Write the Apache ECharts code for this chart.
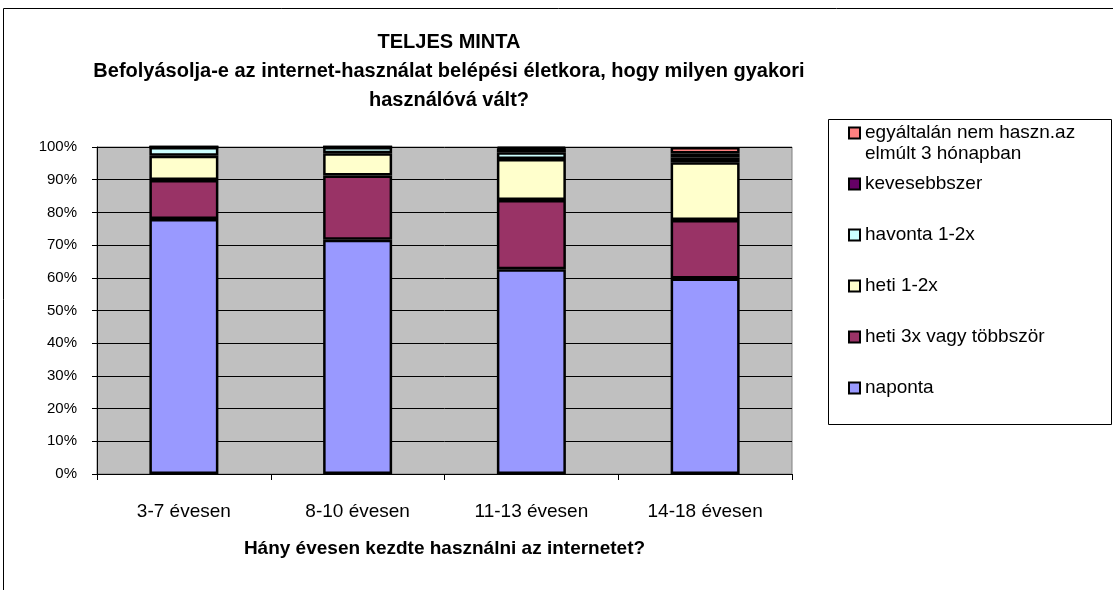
<!DOCTYPE html>
<html>
<head>
<meta charset="utf-8">
<script src="https://cdn.jsdelivr.net/npm/echarts@6/dist/echarts.min.js"></script>
<style>
html, body { margin: 0; padding: 0; background: #fff; }
#chart { width: 1113px; height: 590px; }
</style>
</head>
<body>
<div id="chart"></div>
<script>
// data (percent of each age group)
var categories = ['3-7 évesen', '8-10 évesen', '11-13 évesen', '14-18 évesen'];
var naponta = [78.0, 71.6, 62.6, 59.8];
var heti3x = [11.9, 19.7, 21.2, 17.9];
var heti12 = [7.4, 6.8, 12.5, 17.6];
var havonta = [2.7, 1.9, 2.1, 1.5];
var kevesebb = [0, 0, 1.2, 1.2];
var egyaltalan = [0, 0, 0.4, 2.0];

var seriesNames = ['naponta', 'heti 3x vagy többször', 'heti 1-2x', 'havonta 1-2x', 'kevesebbszer', 'egyáltalán nem haszn.az'];
var seriesData = [naponta, heti3x, heti12, havonta, kevesebb, egyaltalan];
var colors = ['#9999FF', '#993366', '#FFFFCC', '#CCFFFF', '#660066', '#FF8080'];

var font = 'Arial, "Liberation Sans", sans-serif';

var series = seriesNames.map(function (name, i) {
    return {
        name: name,
        type: 'bar',
        stack: 'total',
        barWidth: 69,
        data: seriesData[i],
        itemStyle: { color: colors[i], borderColor: '#000', borderWidth: 2.5 }
    };
});

// one legend per item so each row sits where the original has it
var legendCenters = [388, 337, 286, 235, 184, 133];
var legends = seriesNames.map(function (name, i) {
    var lg = {
        orient: 'vertical',
        left: 848,
        top: legendCenters[i] - 10.5,
        padding: 0,
        itemWidth: 11,
        itemHeight: 11,
        icon: 'rect',
        selectedMode: false,
        data: [name],
        itemStyle: { borderColor: '#000', borderWidth: 2 },
        textStyle: { fontFamily: font, fontSize: 19, color: '#000', lineHeight: 21 }
    };
    if (i === 5) {
        // blank first line keeps the marker level with the first text line
        lg.formatter = function (n) { return ' \n' + n + '\nelmúlt 3 hónapban'; };
        lg.top = legendCenters[i] - 31.5;
    }
    return lg;
});

var myChart = echarts.init(document.getElementById('chart'));
myChart.setOption({
    animation: false,
    title: {
        text: 'TELJES MINTA\nBefolyásolja-e az internet-használat belépési életkora, hogy milyen gyakori\nhasználóvá vált?',
        left: 444,
        top: 23,
        textAlign: 'center',
        textStyle: { fontFamily: font, fontSize: 20, fontWeight: 'bold', color: '#000', lineHeight: 29 }
    },
    legend: legends,
    graphic: [
        { type: 'rect', shape: { x: 3.5, y: 8.5, width: 1300, height: 700 }, style: { fill: 'none', stroke: '#000', lineWidth: 1 }, silent: true },
        { type: 'rect', shape: { x: 828.5, y: 119.5, width: 283, height: 305 }, style: { fill: 'none', stroke: '#000', lineWidth: 1 }, silent: true }
    ],
    grid: {
        left: 97, right: 321, top: 147, bottom: 116,
        show: true, backgroundColor: '#C0C0C0', borderColor: '#808080', borderWidth: 1
    },
    xAxis: {
        type: 'category',
        data: categories,
        axisLine: { lineStyle: { color: '#000', width: 1 } },
        axisTick: { show: true, length: 6, lineStyle: { color: '#000' } },
        axisLabel: { fontFamily: font, fontSize: 19, color: '#000', margin: 28 },
        name: 'Hány évesen kezdte használni az internetet?',
        nameLocation: 'middle',
        nameGap: 65,
        nameTextStyle: { fontFamily: font, fontSize: 19, fontWeight: 'bold', color: '#000' }
    },
    yAxis: {
        type: 'value',
        min: 0,
        max: 100,
        interval: 10,
        axisLine: { show: true, lineStyle: { color: '#000', width: 1 } },
        axisTick: { show: true, length: 5, lineStyle: { color: '#000' } },
        axisLabel: { fontFamily: font, fontSize: 15, color: '#000', margin: 20, formatter: '{value}%' },
        splitLine: { lineStyle: { color: '#000', width: 1 } }
    },
    series: series
});
</script>
</body>
</html>
